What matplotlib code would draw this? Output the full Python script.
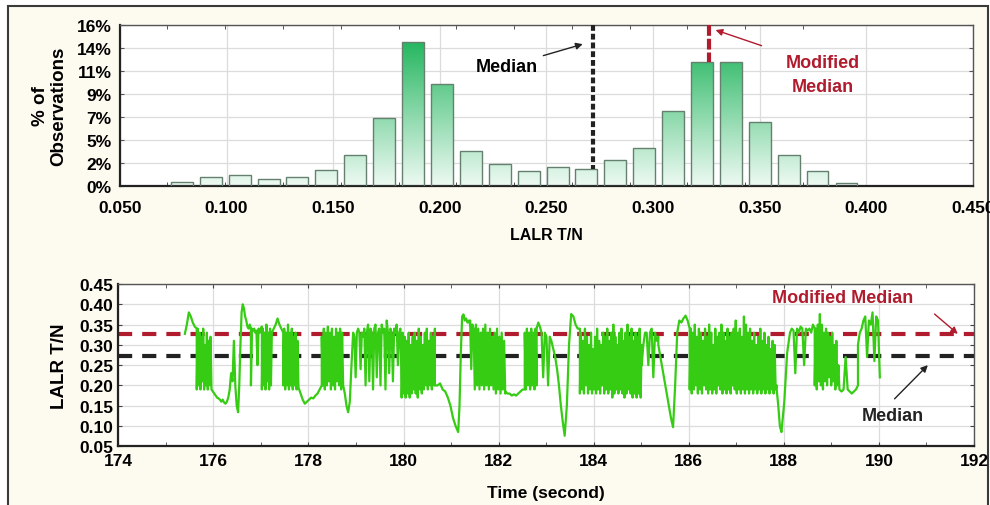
import matplotlib
matplotlib.use("Agg")
import matplotlib.pyplot as plt
import numpy as np
from matplotlib.colors import LinearSegmentedColormap
from matplotlib.patches import Rectangle

plt.rcParams['font.family'] = ['Liberation Sans', 'DejaVu Sans']
plt.rcParams['font.weight'] = 'bold'

# histogram of LALR T/N (bin centres and % of observations)
bin_centres = [0.0790, 0.0926, 0.1061, 0.1197, 0.1332, 0.1468, 0.1603, 0.1739,
               0.1874, 0.2010, 0.2145, 0.2281, 0.2416, 0.2552, 0.2687, 0.2823,
               0.2958, 0.3094, 0.3229, 0.3365, 0.3500, 0.3636, 0.3771, 0.3907]
pct_obs = [0.43, 0.86, 1.09, 0.70, 0.86, 1.62, 3.11, 6.76,
           14.28, 10.14, 3.48, 2.15, 1.49, 1.89, 1.72, 2.58,
           3.78, 7.49, 12.36, 12.36, 6.39, 3.11, 1.49, 0.30]
bin_width = 0.01355
y_tick_labels = ['0%', '2%', '5%', '7%', '9%', '11%', '14%', '16%']

median_val = 0.272
mod_median_val = 0.326

# time trace: each stretch runs between two edge times, values sampled evenly
stretch_edges = [175.40, 175.65, 175.96, 176.52, 176.79, 177.02, 177.23, 177.47,
                 177.79, 178.28, 178.73, 178.94, 179.96, 180.66, 181.15, 181.40,
                 182.14, 182.55, 182.80, 183.11, 183.39, 183.71, 185.01, 185.36,
                 185.67, 186.02, 187.85, 187.95, 188.13, 188.65, 189.17, 189.56, 190.02]
stretch_values = [
    [0.327, 0.35, 0.38, 0.37, 0.355, 0.345, 0.34],
    [0.19, 0.34, 0.20, 0.33, 0.19, 0.32, 0.21, 0.34, 0.19, 0.30, 0.20, 0.33, 0.19, 0.31, 0.20, 0.32, 0.19],
    [0.19, 0.185, 0.18, 0.175, 0.17, 0.168, 0.165, 0.16, 0.165, 0.158, 0.155, 0.16, 0.17, 0.19, 0.23, 0.21, 0.31, 0.20, 0.15, 0.134],
    [0.134, 0.2, 0.30, 0.38, 0.40, 0.39, 0.37, 0.36, 0.345, 0.34, 0.35, 0.34],
    [0.20, 0.34, 0.335, 0.34, 0.33, 0.335, 0.25, 0.34, 0.33, 0.34, 0.345],
    [0.19, 0.34, 0.20, 0.33, 0.19, 0.35, 0.21, 0.33, 0.19, 0.34, 0.20, 0.33],
    [0.33, 0.34, 0.35, 0.365, 0.35, 0.34, 0.33],
    [0.20, 0.34, 0.19, 0.33, 0.20, 0.35, 0.19, 0.33, 0.20, 0.34, 0.19, 0.32, 0.20, 0.33, 0.19, 0.31, 0.20],
    [0.195, 0.18, 0.165, 0.155, 0.16, 0.165, 0.17, 0.168, 0.175, 0.18, 0.19, 0.20],
    [0.32, 0.20, 0.34, 0.19, 0.33, 0.20, 0.345, 0.21, 0.33, 0.19, 0.34, 0.20, 0.32, 0.19, 0.34, 0.21, 0.33, 0.20, 0.34, 0.19, 0.33, 0.20],
    [0.20, 0.18, 0.15, 0.134, 0.16, 0.25, 0.33],
    [0.33, 0.32, 0.22, 0.33, 0.34, 0.33, 0.24, 0.33, 0.32, 0.34, 0.20, 0.33, 0.35, 0.21, 0.34, 0.33, 0.19, 0.34, 0.35, 0.22,
     0.33, 0.34, 0.20, 0.35, 0.33, 0.34, 0.19, 0.36, 0.33, 0.23, 0.34, 0.33, 0.21, 0.34, 0.33, 0.35, 0.25, 0.33, 0.34, 0.20],
    [0.17, 0.33, 0.18, 0.32, 0.17, 0.31, 0.18, 0.33, 0.17, 0.30, 0.18, 0.32, 0.19, 0.33, 0.18, 0.31, 0.17, 0.34,
     0.19, 0.32, 0.18, 0.30, 0.19, 0.33, 0.20, 0.34, 0.19, 0.31, 0.20, 0.33, 0.19, 0.32, 0.20, 0.34],
    [0.20, 0.20, 0.205, 0.19, 0.185, 0.17, 0.15, 0.12, 0.10, 0.085],
    [0.085, 0.15, 0.28, 0.37, 0.375, 0.36, 0.365, 0.355, 0.36, 0.35],
    [0.36, 0.24, 0.35, 0.34, 0.19, 0.35, 0.20, 0.34, 0.19, 0.33, 0.20, 0.34, 0.19, 0.35, 0.20, 0.33,
     0.19, 0.34, 0.20, 0.32, 0.19, 0.33, 0.18, 0.34, 0.19, 0.32, 0.18, 0.33, 0.19, 0.31, 0.18],
    [0.185, 0.18, 0.18, 0.175, 0.178, 0.175, 0.18, 0.185, 0.19, 0.19],
    [0.33, 0.19, 0.34, 0.20, 0.33, 0.19, 0.34, 0.20, 0.33, 0.19, 0.34, 0.20],
    [0.34, 0.355, 0.345, 0.33, 0.22, 0.33, 0.32, 0.20, 0.32, 0.31],
    [0.31, 0.29, 0.27, 0.24, 0.20, 0.15, 0.11, 0.076],
    [0.076, 0.15, 0.30, 0.376, 0.37, 0.35, 0.34, 0.34],
    [0.18, 0.33, 0.19, 0.31, 0.18, 0.34, 0.20, 0.32, 0.18, 0.30, 0.19, 0.33, 0.18, 0.29, 0.19, 0.32,
     0.18, 0.34, 0.19, 0.31, 0.18, 0.30, 0.20, 0.33, 0.18, 0.32, 0.19, 0.34, 0.18, 0.31, 0.19, 0.33,
     0.17, 0.35, 0.18, 0.32, 0.19, 0.30, 0.18, 0.33, 0.19, 0.34, 0.18, 0.31, 0.17, 0.33, 0.18, 0.35,
     0.19, 0.32, 0.18, 0.34, 0.17, 0.31, 0.18, 0.33, 0.17, 0.32, 0.18, 0.34, 0.17, 0.30],
    [0.25, 0.30, 0.33, 0.33, 0.25, 0.33, 0.34, 0.22, 0.33, 0.31, 0.32],
    [0.30, 0.27, 0.24, 0.21, 0.18, 0.15, 0.12, 0.097],
    [0.097, 0.20, 0.33, 0.36, 0.355, 0.365, 0.372, 0.36, 0.34],
    [0.19, 0.34, 0.18, 0.33, 0.19, 0.35, 0.20, 0.32, 0.18, 0.34, 0.19, 0.33, 0.18, 0.31, 0.20, 0.34,
     0.19, 0.32, 0.18, 0.35, 0.19, 0.33, 0.18, 0.30, 0.19, 0.34, 0.18, 0.32, 0.20, 0.33, 0.19, 0.35,
     0.18, 0.33, 0.19, 0.31, 0.18, 0.34, 0.19, 0.32, 0.18, 0.33, 0.20, 0.34, 0.19, 0.36, 0.18, 0.33,
     0.19, 0.34, 0.18, 0.32, 0.19, 0.37, 0.18, 0.35, 0.19, 0.33, 0.18, 0.34, 0.19, 0.31, 0.18, 0.33,
     0.19, 0.30, 0.18, 0.32, 0.19, 0.34, 0.18, 0.31, 0.19, 0.33, 0.18, 0.30, 0.19, 0.32, 0.18, 0.29,
     0.19, 0.31, 0.18, 0.30, 0.19, 0.20],
    [0.19, 0.15, 0.10, 0.085],
    [0.085, 0.16, 0.28, 0.33],
    [0.33, 0.34, 0.335, 0.23, 0.34, 0.33, 0.345, 0.34, 0.25, 0.34, 0.335, 0.34, 0.33, 0.35, 0.34],
    [0.20, 0.34, 0.19, 0.35, 0.21, 0.376, 0.20, 0.35, 0.19, 0.33, 0.21, 0.34, 0.20, 0.33, 0.22, 0.32,
     0.20, 0.33, 0.21, 0.30, 0.19, 0.31, 0.20, 0.25, 0.19],
    [0.19, 0.185, 0.19, 0.27, 0.19, 0.185, 0.18, 0.185, 0.19, 0.20],
    [0.30, 0.33, 0.34, 0.36, 0.37, 0.27, 0.36, 0.35, 0.38, 0.26, 0.37, 0.36, 0.22],
]

RED = '#b01c2e'
GREEN = '#36cc14'
CREAM = '#fdfaf0'

fig = plt.figure(figsize=(9.9, 5.06), dpi=100)
fig.patch.set_facecolor('white')
frame = Rectangle((0.008, -0.02), 0.99, 1.006, transform=fig.transFigure,
                  facecolor=CREAM, edgecolor='#3a3a3a', linewidth=1.5, zorder=-10)
fig.patches.append(frame)

# ---------- top: histogram ----------
ax1 = fig.add_axes([0.1212, 0.6304, 0.8616, 0.3182])
ax1.set_facecolor('white')
cmap = LinearSegmentedColormap.from_list('mint', ['#eefaf3', '#1cb359'])
grad = np.linspace(0, 1, 256).reshape(-1, 1)
bars = ax1.bar(bin_centres, pct_obs, width=bin_width * 0.76, facecolor='none',
               edgecolor='#65806e', linewidth=1.0, zorder=3)
for b in bars:
    im = ax1.imshow(grad, extent=[0.05, 0.45, 0, 15], origin='lower', aspect='auto',
                    cmap=cmap, zorder=2)
    im.set_clip_path(b)

ax1.set_xlim(0.05, 0.45)
ax1.set_ylim(0, 16)
ax1.set_yticks(np.linspace(0, 16, len(y_tick_labels)))
ax1.set_yticklabels(y_tick_labels)
ax1.set_xticks(np.arange(0.05, 0.451, 0.05))
ax1.set_xticklabels(['%.3f' % v for v in np.arange(0.05, 0.451, 0.05)])
ax1.set_xticks(np.array(bin_centres[::2]) - bin_width / 2, minor=True)
ax1.grid(True, color='#dcdcdc', linewidth=0.9, zorder=0)
ax1.set_axisbelow(True)
ax1.tick_params(axis='both', which='major', direction='in', length=0, labelsize=12.5, pad=6)
ax1.tick_params(axis='x', which='major', pad=10)
ax1.tick_params(axis='y', which='major', length=3, right=True, color='#555555')
ax1.tick_params(axis='x', which='minor', direction='in', length=3, top=True, color='#333333')
ax1.set_ylabel('% of\nObservations', fontsize=13.5, fontweight='bold', linespacing=1.1, labelpad=7)
ax1.set_xlabel('LALR T/N', fontsize=11.5, fontweight='bold', labelpad=9)

# median markers on the histogram
med_top = pct_obs[int(np.argmin(np.abs(np.array(bin_centres) - median_val)))]
mod_top = pct_obs[int(np.argmin(np.abs(np.array(bin_centres) - mod_median_val)))]
ax1.plot([median_val, median_val], [16, med_top], color='#222222', linewidth=3,
         dashes=(1.4, 0.7), zorder=4, clip_on=False)
ax1.plot([mod_median_val, mod_median_val], [16, mod_top], color=RED, linewidth=3,
         dashes=(2.6, 0.7), zorder=4, clip_on=False)
ax1.annotate('Median', xy=(0.267, 14.1), xytext=(0.2314, 11.9), fontsize=13,
             fontweight='bold', ha='center', va='center',
             arrowprops=dict(arrowstyle='-|>', color='#222222', lw=1.0, mutation_scale=10,
                             shrinkA=2, shrinkB=0))
ax1.annotate('Modified\nMedian', xy=(0.3293, 15.5), xytext=(0.3794, 11.1), fontsize=13,
             fontweight='bold', ha='center', va='center', color=RED, linespacing=1.55,
             arrowprops=dict(arrowstyle='-|>', color=RED, lw=1.0, mutation_scale=10,
                             shrinkA=16, shrinkB=0, relpos=(0.0, 1.0)))

for s in ax1.spines.values():
    s.set_color('#555555')
    s.set_linewidth(1.0)
ax1.spines['bottom'].set_color('#222222')
ax1.spines['bottom'].set_linewidth(1.6)
ax1.spines['left'].set_color('#222222')
ax1.spines['left'].set_linewidth(1.6)

# ---------- bottom: time trace ----------
ax2 = fig.add_axes([0.1195, 0.1160, 0.8643, 0.3208])
ax2.set_facecolor('white')
trace_t = []
trace_v = []
for i, vals in enumerate(stretch_values):
    trace_t.extend(np.linspace(stretch_edges[i], stretch_edges[i + 1], len(vals)))
    trace_v.extend(vals)
ax2.plot(trace_t, trace_v, color=GREEN, linewidth=1.6, zorder=3)
ax2.axhline(mod_median_val, color=RED, linewidth=3, dashes=(3.4, 2.4), zorder=2)
ax2.axhline(median_val, color='#222222', linewidth=3, dashes=(3.4, 2.4), zorder=2)

ax2.set_xlim(174, 192)
ax2.set_ylim(0.05, 0.45)
ax2.set_xticks(np.arange(174, 192.1, 2))
ax2.set_xticks(np.arange(175, 192, 2), minor=True)
ax2.set_yticks(np.arange(0.05, 0.451, 0.05))
ax2.set_yticklabels(['%.2f' % v for v in np.arange(0.05, 0.451, 0.05)])
ax2.grid(True, color='#dcdcdc', linewidth=0.9, zorder=0)
ax2.set_axisbelow(True)
ax2.tick_params(axis='both', which='major', direction='in', length=3, labelsize=12.5,
                top=True, right=True, color='#444444')
ax2.tick_params(axis='x', which='major', pad=5)
ax2.tick_params(axis='x', which='minor', direction='in', length=3, top=True, color='#444444')
ax2.set_ylabel('LALR T/N', fontsize=13.5, fontweight='bold', labelpad=8)
ax2.set_xlabel('Time (second)', fontsize=12.5, fontweight='bold', labelpad=12)
for s in ax2.spines.values():
    s.set_color('#555555')
    s.set_linewidth(1.0)
ax2.spines['bottom'].set_color('#222222')
ax2.spines['bottom'].set_linewidth(1.6)
ax2.spines['left'].set_color('#222222')
ax2.spines['left'].set_linewidth(1.6)

ax2.text(189.24, 0.4156, 'Modified Median', color=RED, fontsize=13, fontweight='bold',
         ha='center', va='center')
ax2.annotate('', xy=(191.66, 0.327), xytext=(191.17, 0.376),
             arrowprops=dict(arrowstyle='-|>', color=RED, lw=1.0, mutation_scale=10,
                             shrinkA=0, shrinkB=0))
ax2.text(190.29, 0.127, 'Median', color='#222222', fontsize=13, fontweight='bold',
         ha='center', va='center')
ax2.annotate('', xy=(191.03, 0.25), xytext=(190.33, 0.167),
             arrowprops=dict(arrowstyle='-|>', color='#222222', lw=1.0, mutation_scale=10,
                             shrinkA=0, shrinkB=0))

fig.savefig('out.png', dpi=100, facecolor=fig.get_facecolor())
